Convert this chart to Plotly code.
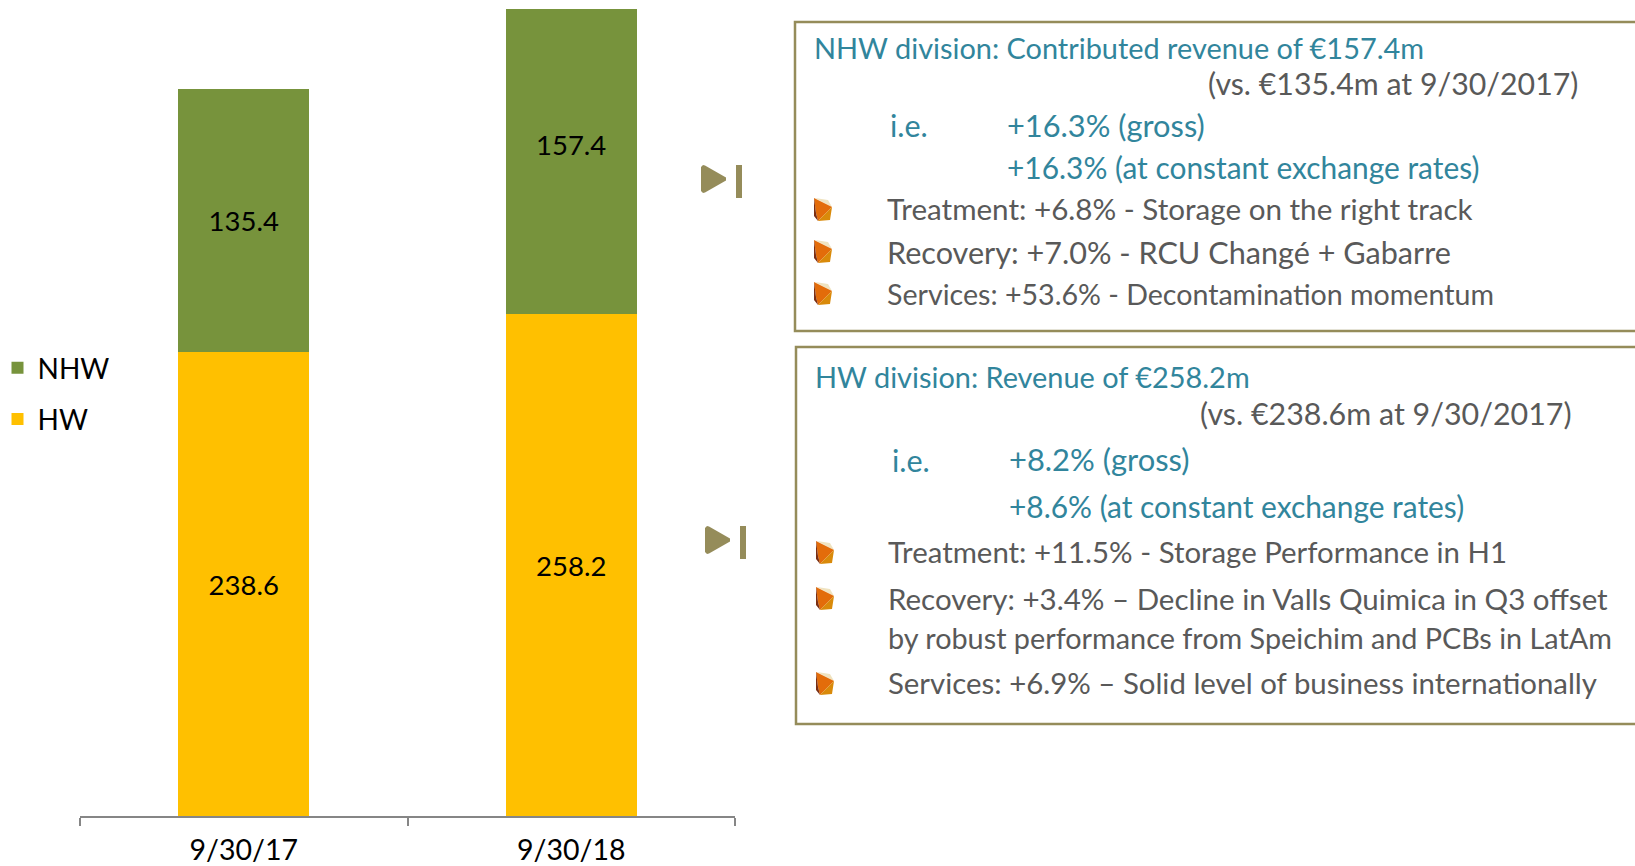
import plotly.graph_objects as go

W, H = 1635, 866
categories = ["9/30/17", "9/30/18"]
hw_values = [238.6, 258.2]
nhw_values = [135.4, 157.4]
series_names = ["HW", "NHW"]
series_colors = ["#FFC000", "#77933C"]

TEAL = "#31859C"
GREY = "#595959"
FRAME = "#958C5A"
FONT = "Lato"

# (text, left px, centre-y px, size, colour)
text_lines = [
    ("NHW division: Contributed revenue of €157.4m", 812, 48, 28.9, TEAL),
    ("(vs. €135.4m at 9/30/2017)", 1206, 83, 30.3, GREY),
    ("i.e.", 888, 125, 30.5, TEAL),
    ("+16.3% (gross)", 1005, 125, 30.8, TEAL),
    ("+16.3% (at constant exchange rates)", 1005, 167, 29.9, TEAL),
    ("Treatment: +6.8% - Storage on the right track", 885, 209, 29.6, GREY),
    ("Recovery: +7.0% - RCU Changé + Gabarre", 885, 252, 30.6, GREY),
    ("Services: +53.6% - Decontamination momentum", 885, 294, 28.6, GREY),
    ("HW division: Revenue of €258.2m", 813, 376, 28.9, TEAL),
    ("(vs. €238.6m at 9/30/2017)", 1198, 413, 30.4, GREY),
    ("i.e.", 890, 460, 30.5, TEAL),
    ("+8.2% (gross)", 1007, 460, 30.9, TEAL),
    ("+8.6% (at constant exchange rates)", 1007, 506, 29.9, TEAL),
    ("Treatment: +11.5% - Storage Performance in H1", 886, 551, 29.4, GREY),
    ("Recovery: +3.4% – Decline in Valls Quimica in Q3 offset", 886, 598, 29.5, GREY),
    ("by robust performance from Speichim and PCBs in LatAm", 886, 638, 28.8, GREY),
    ("Services: +6.9% – Solid level of business internationally", 886, 682, 29.4, GREY),
]
bullet_tops = [198, 240, 282, 541, 587, 672]
bullet_lefts = [814, 814, 814, 816, 816, 816]
frames = [(795, 22, 331), (796, 347, 724)]
icons = [(701, 165, 736), (705, 526, 740)]

px = lambda x: x / W
py = lambda y: 1 - y / H

def path(points):
    return "M" + "L".join(f"{px(x)},{py(y)}" for x, y in points) + "Z"

fig = go.Figure()
fig.add_bar(x=categories, y=hw_values, name=series_names[0], marker_color=series_colors[0],
            text=[f"{v:.1f}" for v in hw_values], legendgroup="a", legendrank=2)
# The last NHW label sits above its bar's middle in the reference, so it is drawn as an annotation.
fig.add_bar(x=categories, y=nhw_values, name=series_names[1], marker_color=series_colors[1],
            text=[f"{nhw_values[0]:.1f}", ""], legendgroup="b", legendrank=1)
fig.update_traces(textposition="inside", insidetextanchor="middle", textangle=0,
                  constraintext="none", marker_line_width=0, hoverinfo="skip",
                  textfont=dict(family=FONT, size=27.5, color="#000000"))

shapes = []
for x0, y0, y1 in frames:
    shapes.append(dict(type="rect", xref="paper", yref="paper", x0=px(x0), x1=px(W + 10),
                       y0=py(y0), y1=py(y1), line=dict(color=FRAME, width=2.5)))
for l, t in zip(bullet_lefts, bullet_tops):
    parts = [
        ("#EFE3C0", [(1, 0), (14, 2), (18, 9)]),
        ("#E36C0A", [(0, 0), (18, 9), (4, 23), (2, 15)]),
        ("#D98A0A", [(18, 9), (16, 22), (4, 23)]),
        ("#7A2E12", [(0, 0), (2, 15), (4, 23), (0, 18)]),
    ]
    for col, pts in parts:
        shapes.append(dict(type="path", xref="paper", yref="paper", layer="above", line_width=0,
                           fillcolor=col, path=path([(l + a, t + b) for a, b in pts])))
for x, y, bx in icons:
    shapes.append(dict(type="path", xref="paper", yref="paper", line_width=0, fillcolor=FRAME,
                       path=path([(x, y + 2), (x + 2, y), (x + 4, y + 0.5), (x + 25, y + 12.5),
                                  (x + 25, y + 15.5), (x + 4, y + 27.5), (x + 2, y + 28), (x, y + 26)])))
    shapes.append(dict(type="rect", xref="paper", yref="paper", line_width=0, fillcolor=FRAME,
                       x0=px(bx), x1=px(bx + 6), y0=py(y), y1=py(y + 33)))

annotations = [
    dict(text=t, x=px(x), y=py(y), xref="paper", yref="paper", xanchor="left", yanchor="middle",
         showarrow=False, font=dict(family=FONT, size=s, color=c))
    for t, x, y, s, c in text_lines
]
annotations.append(dict(text=f"{nhw_values[1]:.1f}", x=categories[1], y=hw_values[1] + nhw_values[1] / 2,
                        xref="x", yref="y", yshift=17, showarrow=False,
                        font=dict(family=FONT, size=27.5, color="#000000")))

fig.update_layout(
    width=W, height=H, barmode="stack", bargap=0.6,
    margin=dict(l=0, r=0, t=0, b=0, autoexpand=False),
    paper_bgcolor="white", plot_bgcolor="white",
    font=dict(family=FONT, color="#000000"),
    xaxis=dict(domain=[80 / W, 735 / W], type="category", tickson="boundaries", ticks="outside",
               ticklen=8, tickwidth=2, tickcolor="#868686", showline=True, linecolor="#868686",
               linewidth=2, showgrid=False, ticklabelstandoff=8,
               tickfont=dict(family=FONT, size=28.5, color="#000000")),
    yaxis=dict(domain=[50 / H, 1], range=[0, 420], visible=False),
    showlegend=True,
    legend=dict(x=-2.5 / W, y=py(343), xanchor="left", yanchor="top", tracegroupgap=12,
                font=dict(family=FONT, size=28, color="#000000"), itemwidth=30,
                bgcolor="rgba(0,0,0,0)", traceorder="grouped"),
    shapes=shapes, annotations=annotations,
)
fig.write_html("out.html", config={"displayModeBar": False},
               post_script="document.body.style.margin='0';document.body.style.overflow='hidden';")
